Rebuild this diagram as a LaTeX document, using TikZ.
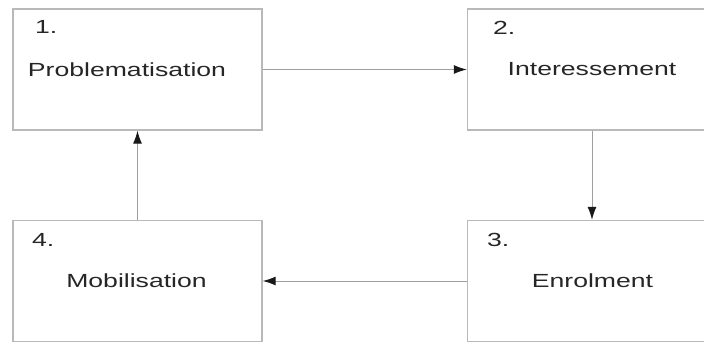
\documentclass[tikz,border=0pt]{standalone}
\usepackage{fontspec}
\setmainfont{Liberation Sans}[FakeStretch=1.4]
\usetikzlibrary{arrows.meta}

\begin{document}
\begin{tikzpicture}[
    x=1pt, y=-1pt,
    every node/.style={font=\fontsize{19}{22}\selectfont, text=black!85},
    stage/.style={draw=gray!55, line width=1.4pt, minimum width=249pt, minimum height=121pt, inner sep=0pt},
    num/.style={anchor=west, inner sep=0pt},
    title/.style={inner sep=0pt},
    link/.style={gray!75, line width=1pt, -{Latex[length=13pt,width=9pt,color=black!90]}},
  ]
  \useasboundingbox (0,0) rectangle (704,342);
  \clip (0,0) rectangle (704,342);

  % the four stages (right column runs past the page edge)
  \node[stage] (prob)  at (137.5,69.5)  {};
  \node[stage] (inter) at (592,69.5)    {};
  \node[stage] (enrol) at (592,281)     {};
  \node[stage] (mobil) at (137.5,281)   {};

  % numbers
  \node[num] (n1) at (35,27)   {1.};
  \node[num] (n2) at (493,28)  {2.};
  \node[num] (n3) at (487,240) {3.};
  \node[num] (n4) at (32,240)  {4.};

  % names
  \node[title] (t1) at (127,70)    {Problematisation};
  \node[title] (t2) at (592,69.5)  {Interessement};
  \node[title] (t3) at (592.5,281) {Enrolment};
  \node[title] (t4) at (136.5,281) {Mobilisation};

  % cycle
  \draw[link] (prob.east)   -- (inter.west);
  \draw[link] (inter.south) -- (enrol.north);
  \draw[link] (enrol.west)  -- (mobil.east);
  \draw[link] (mobil.north) -- (prob.south);
\end{tikzpicture}
\end{document}
